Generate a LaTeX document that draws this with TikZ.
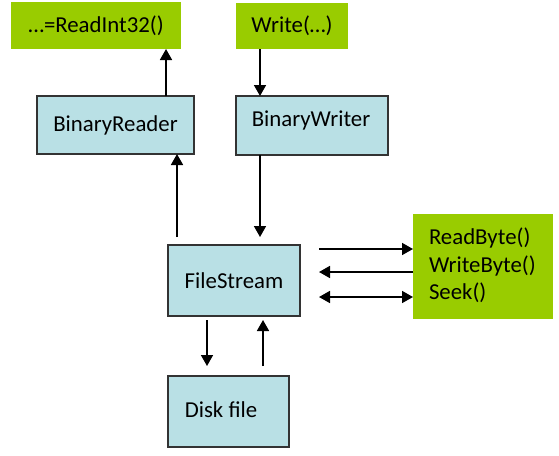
\documentclass[tikz,border=0pt]{standalone}
\usepackage{fontspec}
\setmainfont{Carlito}
\usetikzlibrary{arrows.meta}
\definecolor{grn}{HTML}{99CC00}
\definecolor{lblue}{HTML}{B9E0E5}
\begin{document}
\begin{tikzpicture}[x=1pt,y=-1pt,
  font=\fontsize{22.8}{28}\selectfont,
  bluebox/.style={draw=black!80, line width=1.2pt, fill=lblue, inner sep=0pt, outer sep=0pt},
  greenbox/.style={fill=grn, inner sep=0pt, outer sep=0pt},
  txt/.style={inner sep=0pt, outer sep=0pt},
  arr/.style={line width=1.7pt, -{Triangle[width=12pt,length=11pt]}},
  darr/.style={line width=1.7pt, {Triangle[width=12pt,length=11pt]}-{Triangle[width=12pt,length=11pt]}}]
\useasboundingbox (0,0) rectangle (559,455);
% boxes
\node[greenbox, minimum width=170pt, minimum height=47pt] (rit) at (96,25.5) {\ldots=ReadInt32()};
\node[greenbox, minimum width=112pt, minimum height=46pt] (wr) at (292,26) {Write(\ldots)};
\node[bluebox, minimum width=157pt, minimum height=58pt] (br) at (115.5,125) {BinaryReader};
\node[bluebox, minimum width=152pt, minimum height=59pt] (bw) at (312,125.5) {};
\node[txt] (bwt) at (311,120) {BinaryWriter};
\node[bluebox, minimum width=132pt, minimum height=71pt] (fs) at (234,280.5) {FileStream};
\node[bluebox, minimum width=121pt, minimum height=71pt] (disk) at (228.5,411.5) {};
\node[txt] (diskt) at (221,410) {Disk file};
\node[greenbox, minimum width=140pt, minimum height=105pt] (ops) at (483,266.5) {};
\node[txt, anchor=base west] (op1) at (429,244) {ReadByte()};
\node[txt, anchor=base west] (op2) at (429,272) {WriteByte()};
\node[txt, anchor=base west] (op3) at (429,299) {Seek()};
% connectors
\draw[arr] ([xshift=50.5pt]br.north) -- ([xshift=50.5pt]br.north |- rit.south);
\draw[arr] ([xshift=-32pt]wr.south) -- ([xshift=-32pt]wr.south |- bw.north);
\draw[arr, shorten <=8pt] ([xshift=-57pt]fs.north) -- ([xshift=-57pt]fs.north |- br.south);
\draw[arr, shorten >=8pt] ([xshift=-52pt]bw.south) -- ([xshift=-52pt]bw.south |- fs.north);
\draw[arr, shorten <=4pt, shorten >=10pt] ([xshift=-27pt]fs.south) -- ([xshift=-27pt]fs.south |- disk.north);
\draw[arr, shorten <=10pt, shorten >=4pt] ([xshift=34.5pt]disk.north) -- ([xshift=34.5pt]disk.north |- fs.south);
\draw[arr, shorten <=19pt] ([yshift=31.5pt]fs.east) -- ([yshift=31.5pt]fs.east -| ops.west);
\draw[arr, shorten >=19pt] ([yshift=8.5pt]fs.east -| ops.west) -- ([yshift=8.5pt]fs.east);
\draw[darr, shorten <=19pt] ([yshift=-16.5pt]fs.east) -- ([yshift=-16.5pt]fs.east -| ops.west);
\end{tikzpicture}
\end{document}
